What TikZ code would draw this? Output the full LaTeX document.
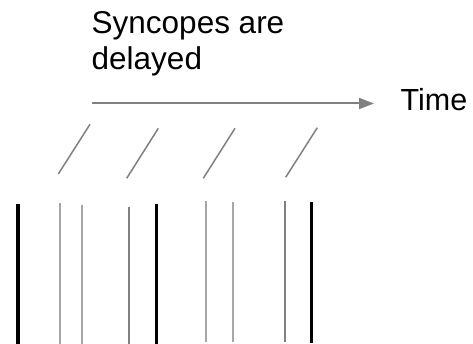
\documentclass[tikz,border=0pt]{standalone}
\usepackage{fontspec}
\setmainfont{Liberation Sans}
\usetikzlibrary{arrows.meta}
\definecolor{lgray}{HTML}{A6A6A6}
\definecolor{mgray}{HTML}{808080}
\begin{document}
\begin{tikzpicture}[x=1pt,y=-1pt,
  lbl/.style={font=\fontsize{31.5}{37}\selectfont, inner sep=0pt, anchor=base west},
  strong/.style={draw=black, line width=3.3pt},
  weak/.style={draw=lgray, line width=2pt},
  mid/.style={draw=mgray, line width=2pt},
  slash/.style={draw=mgray, line width=1.5pt},
  timearrow/.style={draw=mgray, line width=2pt, -{Triangle[length=15pt,width=11pt]}}]
\useasboundingbox (0,0) rectangle (473,344);
% labels
\node[lbl] (syn1) at (91.5,33.3) {Syncopes are};
\node[lbl] (syn2) at (91.5,70) {delayed};
\node[lbl, font=\fontsize{30.5}{36}\selectfont] (time) at (400.5,110.7) {Time};
% time arrow
\coordinate (ta) at (92,103.5);
\coordinate (tb) at (374,103.5);
\draw[timearrow] (ta) -- (tb);
% slashes
\draw[slash] (90,124.3) -- (58.3,174);
\draw[slash] (158.3,128.3) -- (126.7,178.3);
\draw[slash] (235,128.3) -- (203.3,178.3);
\draw[slash] (317.3,127.7) -- (285.7,177.3);
% vertical lines
\draw[strong] (18,204) -- (18,345);
\draw[weak] (59.7,203.3) -- (59.7,345);
\draw[weak] (82.3,205) -- (82.3,345);
\draw[mid] (129,206.7) -- (129,345);
\draw[strong] (156.7,203.7) -- (156.7,345);
\draw[weak] (206,201) -- (206,342.3);
\draw[weak] (233.3,202) -- (233.3,342);
\draw[mid] (285,201) -- (285,341.7);
\draw[strong] (311.7,202.3) -- (311.7,343.3);
\end{tikzpicture}
\end{document}
